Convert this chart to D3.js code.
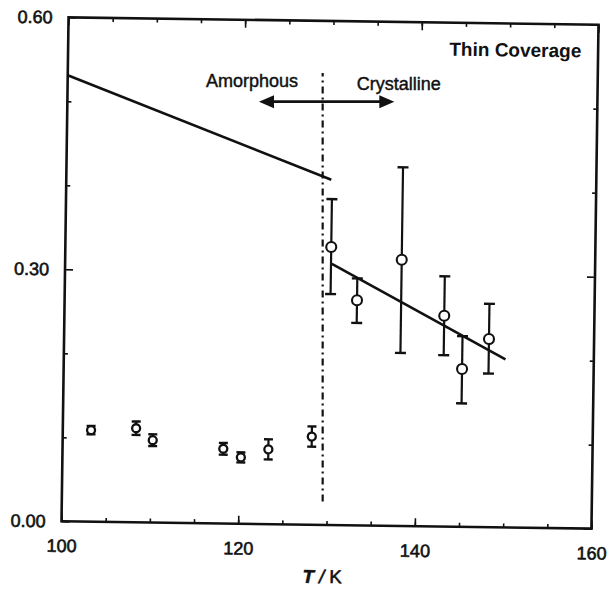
<!DOCTYPE html>
<html>
<head>
<meta charset="utf-8">
<script src="https://cdn.jsdelivr.net/npm/d3@7"></script>
<style>
  html, body { margin: 0; padding: 0; background: #fff; }
  svg text { font-family: "Liberation Sans", Arial, Helvetica, sans-serif; fill: #111; }
</style>
</head>
<body>
<div id="chart"></div>
<script>
// Temperature (K) and measured value for the amorphous region
const amorphousT   = [103.2, 108.3, 110.2, 118.2, 120.2, 123.3, 128.2];
const amorphousVal = [0.109, 0.112, 0.098, 0.089, 0.079, 0.089, 0.105];
const amorphousErr = [0.005, 0.008, 0.007, 0.007, 0.006, 0.012, 0.012];

// Crystalline region with asymmetric error bars
const crystalT    = [130.1, 133.1, 138.1, 143.0, 145.1, 148.1];
const crystalVal  = [0.331, 0.268, 0.317, 0.251, 0.188, 0.224];
const crystalLow  = [0.275, 0.241, 0.206, 0.204, 0.147, 0.183];
const crystalHigh = [0.388, 0.294, 0.427, 0.298, 0.227, 0.266];

// Straight-line trends for the two phases: [T, value] end points
const amorphousFit = [[100, 0.531], [130, 0.411]];
const crystalFit   = [[130.2, 0.311], [150, 0.200]];

// Phase boundary and annotation
const boundaryT = 129.17;
const boundaryRange = [0.028, 0.538];
const arrowT = [121.96, 137.28];
const arrowVal = 0.504;

const xMajorTicks = [100, 120, 140, 160];
const xMinorTicks = d3.range(100, 161, 5);
const yMajorTicks = [0, 0.3, 0.6];
const yMinorTicks = [0.1, 0.2, 0.4, 0.5];

const W = 612, H = 598;
const L = 65, R = 595, T = 21, B = 525;

const svg = d3.select("#chart").append("svg")
  .attr("width", W).attr("height", H);

const x = d3.scaleLinear().domain([100, 160]).range([L, R]);
const y = d3.scaleLinear().domain([0, 0.6]).range([B, T]);

const plot = svg.append("g")
  .attr("transform", `rotate(0.8, ${(L + R) / 2}, ${(T + B) / 2})`);

const fontSize = 18;

// Axes: ticks point inward on all four sides
function styleAxis(g) {
  g.select(".domain").remove();
  g.selectAll(".tick line").attr("stroke", "#111").attr("stroke-width", 1.6);
  g.selectAll(".tick text")
    .style("font-size", fontSize + "px")
    .attr("stroke", "#111").attr("stroke-width", 0.6);
}

plot.append("g").attr("transform", `translate(0,${B})`)
  .call(d3.axisBottom(x).tickValues(xMinorTicks).tickSize(-4).tickFormat(""))
  .call(styleAxis);
plot.append("g").attr("transform", `translate(0,${B})`)
  .call(d3.axisBottom(x).tickValues(xMajorTicks).tickSize(-8).tickPadding(18).tickFormat(d3.format("d")))
  .call(styleAxis);
plot.append("g").attr("transform", `translate(0,${T})`)
  .call(d3.axisTop(x).tickValues(xMinorTicks).tickSize(-4).tickFormat(""))
  .call(styleAxis);
plot.append("g").attr("transform", `translate(0,${T})`)
  .call(d3.axisTop(x).tickValues(xMajorTicks).tickSize(-8).tickFormat(""))
  .call(styleAxis);

plot.append("g").attr("transform", `translate(${L},0)`)
  .call(d3.axisLeft(y).tickValues(yMinorTicks).tickSize(-4).tickFormat(""))
  .call(styleAxis);
plot.append("g").attr("transform", `translate(${L},0)`)
  .call(d3.axisLeft(y).tickValues(yMajorTicks).tickSize(-8).tickPadding(16).tickFormat(d3.format(".2f")))
  .call(styleAxis);
plot.append("g").attr("transform", `translate(${R},0)`)
  .call(d3.axisRight(y).tickValues(yMinorTicks).tickSize(-4).tickFormat(""))
  .call(styleAxis);
plot.append("g").attr("transform", `translate(${R},0)`)
  .call(d3.axisRight(y).tickValues(yMajorTicks).tickSize(-8).tickFormat(""))
  .call(styleAxis);

// Frame
plot.append("rect")
  .attr("x", L).attr("y", T).attr("width", R - L).attr("height", B - T)
  .attr("fill", "none").attr("stroke", "#111").attr("stroke-width", 2.6);

// Axis title
plot.append("text")
  .attr("x", x(129.6)).attr("y", B + 58)
  .attr("text-anchor", "middle")
  .style("font-size", "18.5px")
  .attr("stroke", "#111").attr("stroke-width", 0.6)
  .call(t => {
    t.append("tspan").style("font-style", "italic").style("font-weight", "bold").text("T");
    t.append("tspan").style("font-style", "italic").text(" / ");
    t.append("tspan").text("K");
  });

plot.append("text")
  .attr("x", x(158.1)).attr("y", y(0.6) + 33)
  .attr("text-anchor", "end")
  .style("font-size", "19px").style("font-weight", "bold")
  .text("Thin Coverage");

// Trend lines
const line = d3.line().x(d => x(d[0])).y(d => y(d[1]));
[amorphousFit, crystalFit].forEach(seg => {
  plot.append("path").attr("d", line(seg))
    .attr("fill", "none").attr("stroke", "#111").attr("stroke-width", 2.6);
});

// Error bars and markers
function drawPoints(ts, vals, lows, highs, r, capW, sw) {
  const g = plot.append("g");
  ts.forEach((t, i) => {
    const cx = x(t);
    const y0 = y(lows[i]), y1 = y(highs[i]);
    g.append("line").attr("x1", cx).attr("x2", cx).attr("y1", y0).attr("y2", y1)
      .attr("stroke", "#111").attr("stroke-width", 2.2);
    [y0, y1].forEach(yy => g.append("line")
      .attr("x1", cx - capW / 2).attr("x2", cx + capW / 2).attr("y1", yy).attr("y2", yy)
      .attr("stroke", "#111").attr("stroke-width", 2.4));
    g.append("circle").attr("cx", cx).attr("cy", y(vals[i])).attr("r", r)
      .attr("fill", "#fff").attr("stroke", "#111").attr("stroke-width", sw);
  });
}
drawPoints(amorphousT, amorphousVal,
  amorphousVal.map((v, i) => v - amorphousErr[i]),
  amorphousVal.map((v, i) => v + amorphousErr[i]), 4, 9, 2.3);
drawPoints(crystalT, crystalVal, crystalLow, crystalHigh, 5, 11, 2.1);

// Phase boundary annotation (drawn square to the page)
const notes = svg.append("g");
notes.append("line")
  .attr("x1", x(boundaryT)).attr("x2", x(boundaryT))
  .attr("y1", y(boundaryRange[0])).attr("y2", y(boundaryRange[1]))
  .attr("stroke", "#111").attr("stroke-width", 2.2)
  .attr("stroke-dasharray", "7,4,2,4");

const ax0 = x(arrowT[0]), ax1 = x(arrowT[1]), ay = y(arrowVal);
const headL = 15, headH = 6.5;
notes.append("line")
  .attr("x1", ax0 + headL - 2).attr("x2", ax1 - headL + 2).attr("y1", ay).attr("y2", ay)
  .attr("stroke", "#111").attr("stroke-width", 2.6);
notes.append("path")
  .attr("d", `M${ax0},${ay} L${ax0 + headL},${ay - headH} L${ax0 + headL},${ay + headH} Z`)
  .attr("fill", "#111");
notes.append("path")
  .attr("d", `M${ax1},${ay} L${ax1 - headL},${ay - headH} L${ax1 - headL},${ay + headH} Z`)
  .attr("fill", "#111");

notes.append("text")
  .attr("x", x(115.96)).attr("y", y(0.522))
  .style("font-size", "18px").attr("stroke", "#111").attr("stroke-width", 0.45)
  .text("Amorphous");
notes.append("text")
  .attr("x", x(133.02)).attr("y", y(0.518))
  .style("font-size", "18px").attr("stroke", "#111").attr("stroke-width", 0.45)
  .text("Crystalline");
</script>
</body>
</html>
